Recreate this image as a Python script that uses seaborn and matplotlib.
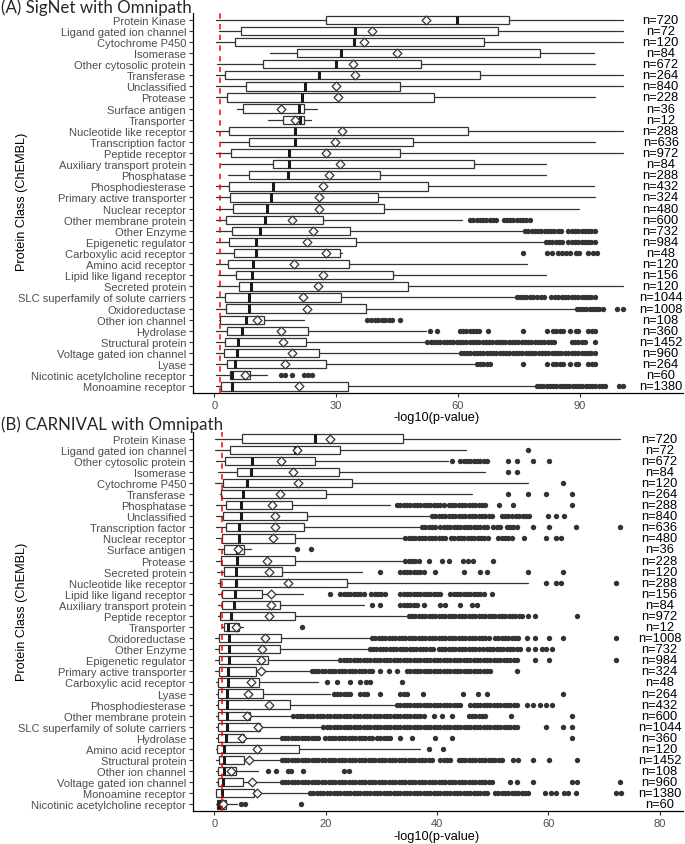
import numpy as np
import pandas as pd
import matplotlib
matplotlib.use("Agg")
import matplotlib.pyplot as plt
import seaborn as sns

# ---------------- panel A : SigNet with Omnipath ----------------
a_cats = ["Protein Kinase", "Ligand gated ion channel", "Cytochrome P450", "Isomerase",
          "Other cytosolic protein", "Transferase", "Unclassified", "Protease",
          "Surface antigen", "Transporter", "Nucleotide like receptor", "Transcription factor",
          "Peptide receptor", "Auxiliary transport protein", "Phosphatase", "Phosphodiesterase",
          "Primary active transporter", "Nuclear receptor", "Other membrane protein",
          "Other Enzyme", "Epigenetic regulator", "Carboxylic acid receptor",
          "Amino acid receptor", "Lipid like ligand receptor", "Secreted protein",
          "SLC superfamily of solute carriers", "Oxidoreductase", "Other ion channel",
          "Hydrolase", "Structural protein", "Voltage gated ion channel", "Lyase",
          "Nicotinic acetylcholine receptor", "Monoamine receptor"]
a_n = [720, 72, 120, 84, 672, 264, 840, 228, 36, 12, 288, 636, 972, 84, 288, 432, 324,
       480, 600, 732, 984, 48, 120, 156, 120, 1044, 1008, 108, 360, 1452, 960, 264, 60, 1380]
a_lo = [0.4, 1.2, 0.4, 13.7, 0.7, 0.4, 0.4, 0.4, 5.5, 13.3, 0.4, 1.4, 0.4, 1.5, 3.3, 0.4,
        0.4, 0.4, 0.4, 0.4, 0.4, 0.4, 0.4, 0.9, 0.7, 0.4, 0.4, 1.2, 0.4, 0.4, 0.4, 0.4, 0.4, 0.4]
a_q1 = [27.4, 6.6, 5.0, 20.3, 12.0, 2.6, 7.8, 3.2, 7.0, 17.0, 3.5, 8.4, 4.1, 14.5, 8.4, 3.5,
        3.8, 4.6, 2.8, 4.4, 3.5, 4.9, 3.3, 5.3, 6.1, 2.6, 2.8, 1.4, 3.0, 2.6, 2.4, 3.0, 3.7, 1.5]
a_med = [59.9, 34.6, 34.4, 31.1, 30.0, 25.8, 22.2, 21.5, 20.8, 21.1, 19.9, 19.9, 18.4, 18.3,
         18.0, 14.5, 13.9, 12.9, 12.5, 11.2, 10.2, 10.2, 9.4, 9.3, 9.1, 8.6, 8.4, 7.8, 6.7,
         5.9, 5.5, 5.0, 4.3, 4.4]
a_q3 = [72.5, 70.0, 66.5, 80.3, 50.9, 65.5, 45.7, 54.0, 22.1, 22.1, 62.4, 49.0, 45.7, 64.0,
        40.7, 52.7, 40.4, 41.9, 26.8, 33.4, 34.9, 30.9, 33.2, 44.1, 47.6, 31.3, 37.4, 12.3,
        23.0, 22.6, 25.8, 27.5, 8.8, 32.8]
a_hi = [100.8, 100.8, 100.8, 93.6, 93.9, 100.8, 100.8, 93.9, 25.2, 23.7, 100.8, 93.9, 100.8,
        81.8, 81.8, 93.6, 93.9, 89.8, 61.0, 76.0, 81.0, 31.5, 77.0, 81.7, 100.8, 74.0, 89.0,
        22.1, 52.2, 52.2, 60.5, 64.0, 13.0, 79.0]
a_mean = [52.2, 38.9, 36.9, 44.9, 34.2, 34.6, 29.9, 30.5, 16.4, 19.9, 31.5, 29.7, 27.5, 30.9,
          28.2, 26.8, 25.8, 25.8, 19.0, 24.4, 22.7, 27.4, 19.7, 26.8, 25.4, 21.7, 22.9, 10.6,
          16.4, 17.0, 19.2, 17.5, 7.4, 20.9]
# outliers: single values, or (start, end) for a dense run of points
a_out = [[], [], [], [], [], [], [], [], [], [], [], [], [], [], [], [], [], [],
         [(63.0, 69.5), (71.3, 78.4)],
         [(76.6, 86.0), 87.1, (88.1, 94.4)],
         [(81.7, 86.4), 87.2, (88.1, 94.4)],
         [76.0, 81.9, 83.3, 84.6, 85.6, 86.6, 87.7, 89.0, 89.9, 92.2, 93.3, 94.4],
         [], [], [],
         [(74.5, 78.6), (79.6, 81.5), 83.0, (84.0, 86.5), 87.2, (88.1, 94.4)],
         [(89.3, 96.1), 99.3, 100.7],
         [37.5, 38.5, 39.5, 40.3, 41.2, 42.0, 42.9, 43.8, 45.7],
         [53.1, 54.9, (60.5, 65.5), 67.5, 76.0, 81.9, (83.5, 86.5), 87.7, 89.0, 89.7, (92.2, 94.4)],
         [(52.5, 84.0), (88.1, 91.8), 93.8],
         [(60.7, 86.4), 87.2, (88.1, 94.4)],
         [(64.7, 67.9), 76.0, 81.9, (83.5, 86.5), 87.7, 89.0, 89.7, (92.2, 94.4)],
         [16.4, 17.4, 19.0, 22.1, 23.0, 24.0],
         [(79.5, 96.3), 99.8, 100.8]]

# ---------------- panel B : CARNIVAL with Omnipath ----------------
b_cats = ["Protein Kinase", "Ligand gated ion channel", "Other cytosolic protein", "Isomerase",
          "Cytochrome P450", "Transferase", "Phosphatase", "Unclassified",
          "Transcription factor", "Nuclear receptor", "Surface antigen", "Protease",
          "Secreted protein", "Nucleotide like receptor", "Lipid like ligand receptor",
          "Auxiliary transport protein", "Peptide receptor", "Transporter", "Oxidoreductase",
          "Other Enzyme", "Epigenetic regulator", "Primary active transporter",
          "Carboxylic acid receptor", "Lyase", "Phosphodiesterase", "Other membrane protein",
          "SLC superfamily of solute carriers", "Hydrolase", "Amino acid receptor",
          "Structural protein", "Other ion channel", "Voltage gated ion channel",
          "Monoamine receptor", "Nicotinic acetylcholine receptor"]
b_n = [720, 72, 672, 84, 120, 264, 288, 840, 636, 480, 36, 228, 120, 288, 156, 84, 972, 12,
       1008, 732, 984, 324, 48, 264, 432, 600, 1044, 360, 120, 1452, 108, 960, 1380, 60]
b_lo = [0.1, 0.1, 0.2, 0.7, 0.1, 1.0, 0.3, 0.3, 0.3, 0.3, 0.7, 0.3, 0.4, 0.7, 0.7, 0.7, 0.7,
        1.3, 0.1, 0.1, 0.1, 0.1, 0.3, 0.3, 0.3, 0.3, 0.3, 0.3, 0.3, 0.3, 0.3, 0.3, 0.3, 0.3]
b_q1 = [5.0, 2.8, 1.9, 4.1, 1.6, 1.1, 2.0, 1.5, 2.0, 1.3, 1.8, 1.1, 1.7, 1.0, 1.4, 1.4, 1.0,
        1.8, 0.8, 0.8, 0.8, 0.8, 0.6, 0.7, 0.6, 0.7, 0.7, 0.6, 0.5, 0.8, 0.7, 0.7, 0.3, 0.4]
b_med = [18.0, 14.5, 6.8, 6.5, 5.8, 5.1, 4.7, 4.7, 4.4, 4.4, 4.1, 4.1, 3.8, 3.8, 3.7, 3.6,
         2.9, 2.5, 2.7, 2.7, 2.7, 2.5, 2.5, 2.2, 2.2, 2.2, 2.2, 2.1, 1.7, 1.8, 1.7, 1.6, 1.3, 0.9]
b_q3 = [33.8, 22.5, 18.1, 22.3, 24.7, 20.1, 14.0, 16.6, 16.1, 14.4, 5.4, 14.5, 12.1, 23.9,
        8.5, 11.8, 14.5, 4.4, 12.0, 11.8, 9.7, 7.4, 8.0, 8.8, 13.5, 6.4, 8.2, 5.4, 15.2, 5.4,
        3.8, 5.2, 7.1, 2.0]
b_hi = [72.8, 45.2, 42.0, 48.6, 56.3, 46.3, 31.6, 38.5, 36.8, 33.8, 6.5, 33.7, 26.5, 56.3,
        16.0, 26.8, 34.5, 5.2, 28.0, 27.6, 22.3, 17.2, 18.7, 20.8, 32.5, 14.0, 19.4, 12.1,
        37.0, 12.1, 7.9, 12.1, 17.0, 4.1]
b_mean = [20.8, 14.8, 12.0, 14.1, 15.1, 11.7, 10.3, 10.9, 10.8, 10.6, 4.2, 9.4, 9.8, 13.3,
          10.1, 10.1, 9.8, 3.9, 9.1, 8.6, 8.4, 8.4, 6.6, 6.1, 9.8, 5.9, 7.8, 4.9, 7.6, 6.2,
          3.0, 6.8, 7.7, 1.6]
b_out = [[],
         [56.4],
         [42.7, (44.2, 49.0), 52.8, 54.3, 57.3, 60.2],
         [52.8, 54.3],
         [62.7],
         [52.8, 56.4, 59.6, 64.3],
         [(32.8, 41.2), (42.1, 48.9), 51.2, 53.6, 64.3],
         [(39.1, 50.1), (51.6, 53.5), (54.2, 56.7), 60.0, 61.4, 62.8],
         [(37.3, 40.0), (40.6, 49.0), (50.1, 51.3), (52.5, 54.6), 57.3, 60.2, 64.9, 72.9],
         [(34.3, 41.5), (42.5, 49.2), (51.0, 53.4), 55.7, 59.6, 61.4, 62.2],
         [14.8, 17.4],
         [(34.3, 37.0), 38.6, 40.9, 42.1, 44.7, 45.5, 46.5, 50.1],
         [29.8, (33.4, 37.9), 39.7, 44.9, 47.7, 48.9, 56.3, 62.6],
         [59.6, 61.4, 62.2, 72.2],
         [20.8, (22.6, 26.8), (28.2, 31.0), (33.4, 36.4), (37.0, 40.6), (42.4, 48.9), 49.8],
         [28.3, 29.8, (33.4, 36.4), 37.6, 40.6, 41.5, 44.2, 46.3, 47.2],
         [(34.9, 55.4), 56.4, 57.6, 65.2],
         [15.7],
         [(28.3, 49.8), (50.4, 54.9), 56.1, 57.6, 60.2, 62.6, 72.2],
         [(27.9, 39.4), (40.3, 47.7), (48.3, 55.2), 56.4, 57.6, 58.8, 59.6, 60.6],
         [(22.6, 54.9), 57.6, 60.2, 72.2],
         [(17.5, 28.6), 29.8, 31.3, 32.8, (34.6, 37.6), (38.2, 43.6), (44.2, 50.1), 54.3],
         [20.2, 22.0, 24.4, 26.2, 27.2, 28.0, 33.7],
         [(21.4, 24.4), (26.2, 27.8), 29.8, (33.4, 35.0), 37.5, 44.7, 47.4, 48.9, 62.6],
         [(32.8, 44.7), (46.0, 54.9), 56.1, 57.3, 58.5, 59.6, 60.6],
         [(14.2, 37.0), 37.6, 39.4, 40.9, 42.7, (45.7, 48.9), 53.3, 64.2],
         [(19.6, 54.9), 59.6, 62.6, 64.2],
         [(12.1, 19.0), (19.9, 28.3), (29.2, 31.6), 33.4, 35.5, 39.7, 42.7, 64.2],
         [38.6, 41.0],
         [(12.1, 39.4), (40.6, 42.9), (43.9, 51.9), 53.7, 54.6, 57.3, 60.2, 65.2],
         [9.7, 11.1, 13.2, 13.8, 16.0, 23.2, 24.2],
         [(12.1, 50.1), 53.1, 54.3, 57.3, 64.2, 65.2, 72.9],
         [(17.2, 49.2), (50.4, 56.7), 59.4, 60.4, 61.4, 62.8, 63.6, 64.9, 72.2, 73.0],
         [4.7, 5.5, 15.6]]

sns.set_theme(style="ticks")
plt.rcParams["font.family"] = ["Liberation Sans", "DejaVu Sans"]

DARK = "#333333"
W, H = 685, 845


def expand(outs, step):
    vals = []
    for o in outs:
        if isinstance(o, tuple):
            vals.extend(np.arange(o[0], o[1] + 1e-9, step))
        else:
            vals.append(o)
    return vals


def draw_panel(ax, cats, n, lo, q1, med, q3, hi, mean, outs, step, n_x, xlim, xticks):
    pos = np.arange(len(cats))
    stats = [dict(whislo=lo[i], q1=q1[i], med=med[i], q3=q3[i], whishi=hi[i], fliers=[])
             for i in range(len(cats))]
    ax.bxp(stats, positions=pos, widths=0.75, vert=False, showfliers=False, showcaps=False,
           patch_artist=True, manage_ticks=False,
           boxprops=dict(facecolor="white", edgecolor=DARK, linewidth=0.9),
           whiskerprops=dict(color=DARK, linewidth=0.9),
           medianprops=dict(color="#1a1a1a", linewidth=2.2, solid_capstyle="butt"))

    rows = [(v, p) for p, o in zip(pos, outs) for v in expand(o, step)]
    fl = pd.DataFrame(rows, columns=["value", "pos"])
    sns.scatterplot(data=fl, x="value", y="pos", ax=ax, s=15, color=DARK,
                    linewidth=0, legend=False, zorder=3)
    md = pd.DataFrame({"value": mean, "pos": pos})
    sns.scatterplot(data=md, x="value", y="pos", ax=ax, marker="D", s=20, color="white",
                    edgecolor=DARK, linewidth=0.9, legend=False, zorder=4)

    ax.axvline(-np.log10(0.05), color="red", ls=(0, (3.5, 3.5)), lw=1.1, zorder=5)
    for p, k in zip(pos, n):
        ax.text(n_x, p, f"n={k}", ha="center", va="center", fontsize=9.3, color="black")

    ax.set_yticks(pos)
    ax.set_yticklabels(cats)
    ax.set_ylim(len(cats) - 0.4, -0.6)
    ax.set_xlim(*xlim)
    ax.set_xticks(xticks)
    ax.tick_params(length=3, width=0.8, color=DARK, labelcolor="#4D4D4D",
                   labelsize=8, pad=2)
    for s in ["left", "bottom"]:
        ax.spines[s].set_color("black")
        ax.spines[s].set_linewidth(0.9)
    sns.despine(ax=ax)
    ax.set_xlabel("")
    ax.set_ylabel("")


fig = plt.figure(figsize=(6.85, 8.45), dpi=100)
ax_a = fig.add_axes([193 / W, 1 - 394 / H, 490 / W, 380 / H])
ax_b = fig.add_axes([193 / W, 1 - 812 / H, 490 / W, 379 / H])

draw_panel(ax_a, a_cats, a_n, a_lo, a_q1, a_med, a_q3, a_hi, a_mean, a_out,
           0.8, 110, (-5.3, 115.5), [0, 30, 60, 90])
draw_panel(ax_b, b_cats, b_n, b_lo, b_q1, b_med, b_q3, b_hi, b_mean, b_out,
           0.6, 80, (-3.85, 84.2), [0, 20, 40, 60, 80])

# axis titles
for yc in (202, 612):
    fig.text(22 / W, 1 - yc / H, "Protein Class (ChEMBL)", rotation=90,
             ha="center", va="center", fontsize=9.2, color="black")
for yc in (418, 837):
    fig.text(437 / W, 1 - yc / H, "-log10(p-value)", ha="center", va="center",
             fontsize=9.2, color="black")

# panel titles
fig.text(1 / W, 1 - 8 / H, "(A) SigNet with Omnipath", family=["Lato", "DejaVu Sans"],
         fontsize=12.2, ha="left", va="center")
fig.text(1 / W, 1 - 425 / H, "(B) CARNIVAL with Omnipath", family=["Lato", "DejaVu Sans"],
         fontsize=12.2, ha="left", va="center")

fig.savefig("out.png", dpi=100)
